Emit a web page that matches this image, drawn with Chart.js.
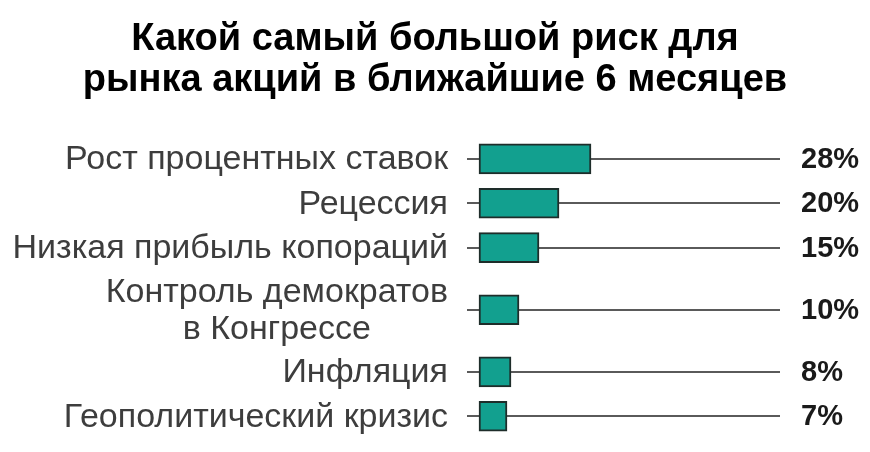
<!DOCTYPE html>
<html>
<head>
<meta charset="utf-8">
<script src="https://cdn.jsdelivr.net/npm/chart.js@4.4.1/dist/chart.umd.min.js"></script>
<style>
  html, body { margin: 0; padding: 0; background: #ffffff; }
  #wrap { width: 870px; height: 452px; }
</style>
</head>
<body>
<div id="wrap"><canvas id="riskChart"></canvas></div>
<script>
const categories = [
  "Рост процентных ставок",
  "Рецессия",
  "Низкая прибыль копораций",
  ["Контроль демократов", "в Конгрессе"],
  "Инфляция",
  "Геополитический кризис",
];
const shares = [28, 20, 15, 10, 8, 7];
const titleLines = ["Какой самый большой риск для", "рынка акций в ближайшие 6 месяцев"];

const FONT = "'Liberation Sans', Arial, sans-serif";

// rows with a two-line label take more room than single-line rows
const rowSize = categories.map((c) => (Array.isArray(c) ? 1.8 : 1));
const rowPos = [];
rowSize.forEach((s, i) => {
  rowPos.push(i === 0 ? 0 : rowPos[i - 1] + (rowSize[i - 1] + s) / 2);
});

// thin gray rail behind every bar, plus labels on both sides
const railPlugin = {
  id: "rails",
  beforeDatasetsDraw(chart) {
    const { ctx, chartArea, scales } = chart;
    ctx.save();
    ctx.strokeStyle = "#5a5a5a";
    ctx.lineWidth = 2;
    rowPos.forEach((p) => {
      const y = Math.round(scales.y.getPixelForValue(p));
      ctx.beginPath();
      ctx.moveTo(chartArea.left, y);
      ctx.lineTo(chartArea.right, y);
      ctx.stroke();
    });
    ctx.restore();
  },
  afterDatasetsDraw(chart) {
    const { ctx, chartArea, scales } = chart;
    ctx.save();
    ctx.font = "bold 29px " + FONT;
    ctx.fillStyle = "#1a1a1a";
    ctx.textAlign = "left";
    ctx.textBaseline = "middle";
    shares.forEach((v, i) => {
      ctx.fillText(v + "%", chartArea.right + 21, scales.y.getPixelForValue(rowPos[i]) + 1);
    });
    // category labels, multi-line ones centred on each other
    ctx.font = "34px " + FONT;
    ctx.fillStyle = "#3d3d3d";
    ctx.textAlign = "center";
    const right = chartArea.left - 19;
    const lh = 37;
    categories.forEach((c, i) => {
      const lines = Array.isArray(c) ? c : [c];
      const w = Math.max(...lines.map((l) => ctx.measureText(l).width));
      const cy = scales.y.getPixelForValue(rowPos[i]);
      lines.forEach((l, k) => {
        ctx.fillText(l, right - w / 2, cy + 1 + (k - (lines.length - 1) / 2) * lh);
      });
    });
    ctx.restore();
  },
};

new Chart(document.getElementById("riskChart").getContext("2d"), {
  type: "bar",
  data: {
    datasets: [
      {
        data: shares.map((v, i) => ({ x: v, y: rowPos[i] })),
        backgroundColor: "#12a08f",
        borderColor: "#1e2d2a",
        borderWidth: 2,
        borderSkipped: false,
        barThickness: 30,
      },
    ],
  },
  options: {
    indexAxis: "y",
    responsive: true,
    maintainAspectRatio: false,
    animation: false,
    layout: {
      padding: { left: 0, right: 0, top: 0, bottom: 10 },
    },
    plugins: {
      legend: { display: false },
      tooltip: { enabled: false },
      title: {
        display: true,
        text: titleLines,
        color: "#000000",
        font: { size: 38, weight: "bold", family: FONT, lineHeight: 1.08 },
        padding: { top: 19, bottom: 32 },
      },
    },
    scales: {
      x: { display: false, min: -3, max: 75.25 },
      y: {
        type: "linear",
        reverse: true,
        offset: false,
        min: -0.58,
        max: rowPos[rowPos.length - 1] + 0.58,
        display: true,
        ticks: { display: false },
        grid: { display: false },
        border: { display: false },
        afterFit(scale) {
          scale.width = 467;
        },
      },
      yRight: {
        type: "linear",
        position: "right",
        display: true,
        ticks: { display: false },
        grid: { display: false },
        border: { display: false },
        afterFit(scale) {
          scale.width = 90;
        },
      },
    },
  },
  plugins: [railPlugin],
});
</script>
</body>
</html>
